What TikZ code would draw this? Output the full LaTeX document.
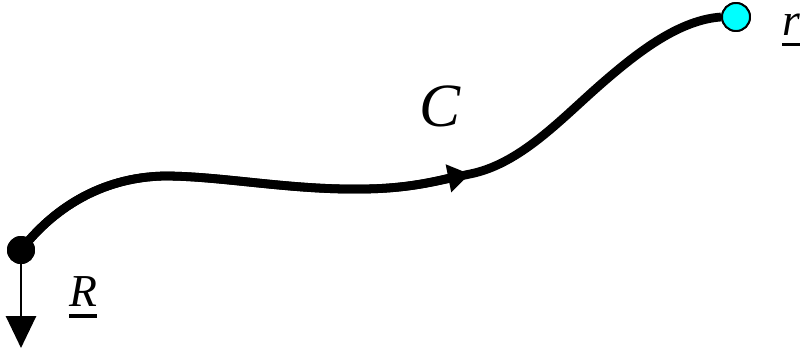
\documentclass[tikz,border=0pt]{standalone}
\usepackage{fontspec}
\setmainfont{Liberation Serif}
\usepackage{tikz}
\usetikzlibrary{arrows.meta}
\definecolor{ptink}{RGB}{0,0,0}
\definecolor{ptcyan}{RGB}{0,255,255}
\newcommand{\undl}[1]{\setbox0=\hbox{\textit{#1}}\rlap{\copy0}\rule[-6.5pt]{\wd0}{1.9pt}}
\tikzset{
  ptdot/.style={circle, inner sep=0pt, minimum size=0.56cm},
  fixed/.style={ptdot, fill=ptink},
  moving/.style={ptdot, fill=ptcyan, draw=ptink, line width=1.1pt},
  curv/.style={draw=ptink, line width=5pt, line join=round},
  curvarr/.style={curv, -{Triangle[length=0.44cm,width=0.54cm]}},
  down/.style={-{Triangle[length=0.64cm,width=0.6cm]}, draw=ptink, line width=1.6pt},
  lbl/.style={inner sep=0pt}
}
\begin{document}
\begin{tikzpicture}[x=0.02cm, y=-0.02cm]
  \useasboundingbox (0,0) rectangle (803,352);
  \node[fixed] (Rpt) at (21,250) {};
  \node[moving] (rpt) at (736,17) {};
  \coordinate (tip) at (21,348);
  \coordinate (mid) at (470,174);
  \draw[down] (Rpt.center) -- (tip);
  % path C
  \draw[curv] (Rpt.center) .. controls (52,210) and (100,177) .. (165,176)
    .. controls (220,176) and (290,190) .. (360,189)
    .. controls (410,189) and (440,180) .. (mid)
    .. controls (520,164) and (560,120) .. (600,85)
    .. controls (640,50) and (680,20) .. (rpt.west);
  % same first half again, for the arrow halfway
  \draw[curvarr] (Rpt.center) .. controls (52,210) and (100,177) .. (165,176)
    .. controls (220,176) and (290,190) .. (360,189)
    .. controls (410,189) and (440,180) .. (mid);
  \node[fixed] at (Rpt) {};
  \node[moving] at (rpt) {};
  \node[lbl] (Rlbl) at (83,297) {\fontsize{26}{30}\selectfont\undl{R}};
  \node[lbl] (Clbl) at (440,106) {\fontsize{35}{40}\selectfont\textit{C}};
  \node[lbl, anchor=west] (rlbl) at (782,30) {\fontsize{26}{30}\selectfont\undl{r}};
\end{tikzpicture}
\end{document}
